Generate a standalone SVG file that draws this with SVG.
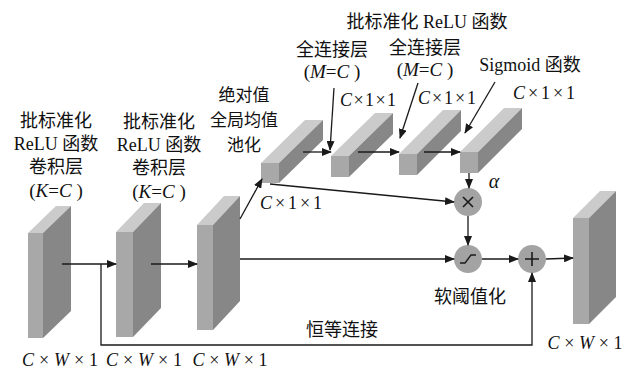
<svg xmlns="http://www.w3.org/2000/svg" width="637" height="374" viewBox="0 0 637 374">
<style>
text{font-family:"Liberation Serif","Noto Sans CJK SC",serif;font-size:18px;fill:#111}
.cj{font-family:"Noto Sans CJK SC","Liberation Serif",sans-serif;font-size:18px}
.it{font-style:italic}
.fr{fill:#a8a8a8}
.sd{fill:#878787}
.tp{fill:#cbcbcb}
.ln{stroke:#1a1a1a;stroke-width:1.3;fill:none}
.cir{fill:#a3a3a3}
.sym{stroke:#1a1a1a;stroke-width:1.6;fill:none}
</style>
<defs>
<marker id="ah" markerWidth="10" markerHeight="8" refX="9" refY="4" orient="auto" markerUnits="userSpaceOnUse">
<path d="M0,0 L10,4 L0,8 Z" fill="#1a1a1a"/>
</marker>
</defs>

<g id="block1">
<polygon class="tp" points="28,233 56,206 71,206 43,233"/>
<polygon class="sd" points="43,233 71,206 71,311 43,338"/>
<rect class="fr" x="28" y="233" width="15" height="105"/>
</g>
<g id="block2">
<polygon class="tp" points="116,232 144,203 161,203 133,232"/>
<polygon class="sd" points="133,232 161,203 161,308 133,337"/>
<rect class="fr" x="116" y="232" width="17" height="105"/>
</g>
<g id="block3">
<polygon class="tp" points="197,225 224,196 240,196 213,225"/>
<polygon class="sd" points="213,225 240,196 240,301 213,330"/>
<rect class="fr" x="197" y="225" width="16" height="105"/>
</g>
<g id="output">
<polygon class="tp" points="573,218 600,191 616,191 589,218"/>
<polygon class="sd" points="589,218 616,191 616,297 589,324"/>
<rect class="fr" x="573" y="218" width="16" height="106"/>
</g>

<g id="bar1">
<polygon class="tp" points="261,163 305,120 323,120 279,163"/>
<polygon class="sd" points="279,163 323,120 323,140 279,183"/>
<rect class="fr" x="261" y="163" width="18" height="20"/>
</g>
<g id="bar2">
<polygon class="tp" points="331,156 375,113 393,113 349,156"/>
<polygon class="sd" points="349,156 393,113 393,134 349,177"/>
<rect class="fr" x="331" y="156" width="18" height="21"/>
</g>
<g id="bar3">
<polygon class="tp" points="399,154 443,110 461,110 417,154"/>
<polygon class="sd" points="417,154 461,110 461,131 417,175"/>
<rect class="fr" x="399" y="154" width="18" height="21"/>
</g>
<g id="bar4">
<polygon class="tp" points="460,152 504,108 522,108 478,152"/>
<polygon class="sd" points="478,152 522,108 522,129 478,173"/>
<rect class="fr" x="460" y="152" width="18" height="21"/>
</g>

<g id="mul">
<circle class="cir" cx="468" cy="202" r="14"/>
<path class="sym" d="M463,197 L473,207 M473,197 L463,207"/>
</g>
<g id="soft">
<circle class="cir" cx="468" cy="259" r="14"/>
<path class="sym" style="stroke-width:1.3" d="M460,263 L465,263 L471,255 L476,255"/>
</g>
<g id="add">
<circle class="cir" cx="532" cy="259" r="14"/>
<path class="sym" d="M525,259 L539,259 M532,252 L532,266"/>
</g>

<g id="connectors">
<path class="ln" d="M62,264 L116,264" marker-end="url(#ah)"/>
<path class="ln" d="M151,264 L197,264" marker-end="url(#ah)"/>
<path class="ln" d="M101,264 L101,345 L532,345 L532,273" marker-end="url(#ah)"/>
<path class="ln" d="M240,259 L454,259" marker-end="url(#ah)"/>
<path class="ln" d="M240,219 L262,179" marker-end="url(#ah)"/>
<path class="ln" d="M270,184 L454,202" marker-end="url(#ah)"/>
<path class="ln" d="M303,152 L331,152" marker-end="url(#ah)"/>
<path class="ln" d="M358,152 L399,152" marker-end="url(#ah)"/>
<path class="ln" d="M424,152 L460,152" marker-end="url(#ah)"/>
<path class="ln" d="M469,173 L469,188" marker-end="url(#ah)"/>
<path class="ln" d="M468,216 L468,245" marker-end="url(#ah)"/>
<path class="ln" d="M482,259 L518,259" marker-end="url(#ah)"/>
<path class="ln" d="M546,259 L573,258" marker-end="url(#ah)"/>
<path class="ln" d="M334,88 L330,150" marker-end="url(#ah)"/>
<path class="ln" d="M418,83 L400,138" marker-end="url(#ah)"/>
<path class="ln" d="M495,82 L465,133" marker-end="url(#ah)"/>
</g>

<g id="labels" text-anchor="middle">
<text class="cj" x="56" y="127">批标准化</text>
<text x="56" y="150">ReLU 函数</text>
<text class="cj" x="56" y="173">卷积层</text>
<text x="56" y="197" style="font-size:19px">(<tspan class="it">K</tspan>=<tspan class="it">C</tspan> )</text>

<text class="cj" x="159" y="128">批标准化</text>
<text x="159" y="151">ReLU 函数</text>
<text class="cj" x="159" y="174">卷积层</text>
<text x="159" y="198" style="font-size:19px">(<tspan class="it">K</tspan>=<tspan class="it">C</tspan> )</text>

<text class="cj" x="244" y="101" style="font-size:17px">绝对值</text>
<text class="cj" x="244" y="126" style="font-size:17px">全局均值</text>
<text class="cj" x="244" y="151" style="font-size:17px">池化</text>

<text x="427" y="28">批标准化 ReLU 函数</text>
<text class="cj" x="332" y="56">全连接层</text>
<text x="332" y="78" style="font-size:19px">(<tspan class="it">M</tspan>=<tspan class="it">C</tspan> )</text>
<text class="cj" x="425" y="54">全连接层</text>
<text x="425" y="76" style="font-size:19px">(<tspan class="it">M</tspan>=<tspan class="it">C</tspan> )</text>
<text x="530" y="71">Sigmoid 函数</text>

<text x="368" y="106" textLength="56" lengthAdjust="spacing"><tspan class="it">C</tspan>×1×1</text>
<text x="447" y="104" textLength="58" lengthAdjust="spacing"><tspan class="it">C</tspan>×1×1</text>
<text x="544" y="99" textLength="62" lengthAdjust="spacing"><tspan class="it">C</tspan>×1×1</text>
<text x="291" y="209" textLength="62" lengthAdjust="spacing"><tspan class="it">C</tspan>×1×1</text>

<text class="it" x="494" y="188" style="font-size:20px">α</text>
<text class="cj" x="470" y="303">软阈值化</text>
<text class="cj" x="342" y="336">恒等连接</text>

<text x="60" y="366" textLength="76" lengthAdjust="spacing"><tspan class="it">C</tspan>×<tspan class="it">W</tspan>×1</text>
<text x="144" y="366" textLength="76" lengthAdjust="spacing"><tspan class="it">C</tspan>×<tspan class="it">W</tspan>×1</text>
<text x="230" y="366" textLength="75" lengthAdjust="spacing"><tspan class="it">C</tspan>×<tspan class="it">W</tspan>×1</text>
<text x="585" y="349" textLength="75" lengthAdjust="spacing"><tspan class="it">C</tspan>×<tspan class="it">W</tspan>×1</text>
</g>
</svg>
